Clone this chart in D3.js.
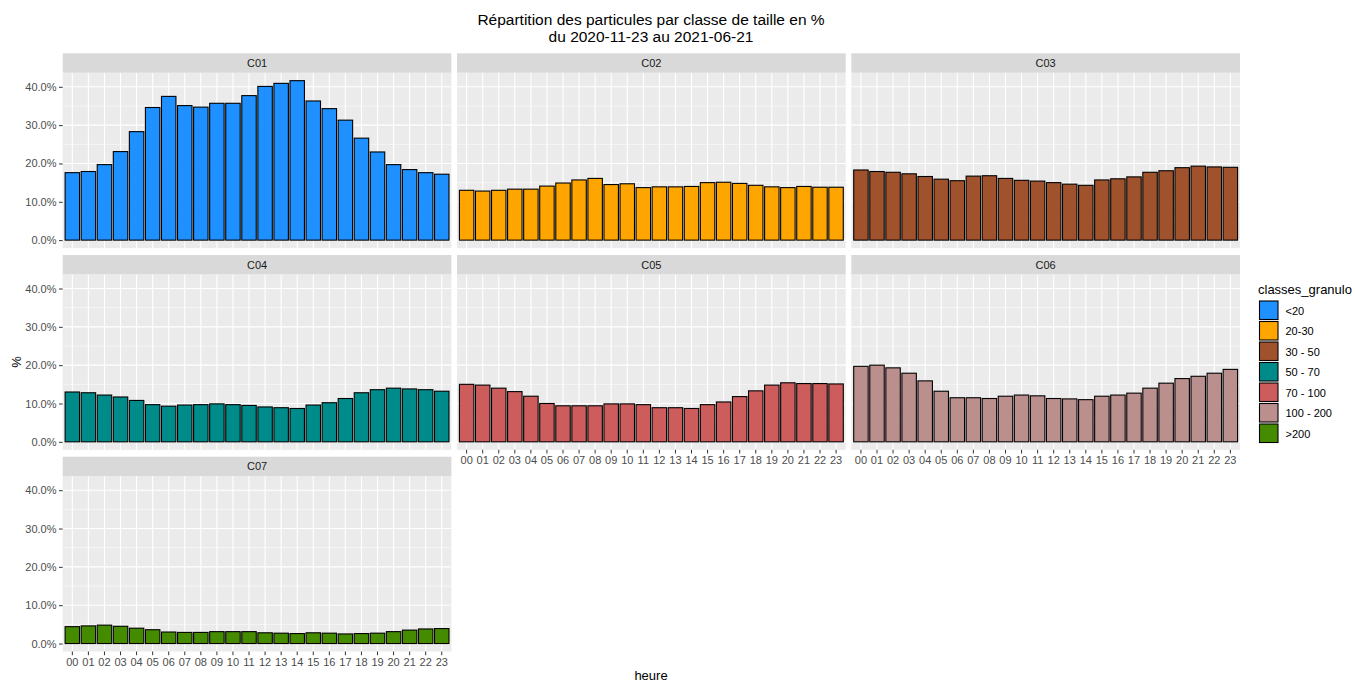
<!DOCTYPE html>
<html>
<head>
<meta charset="utf-8">
<script src="https://cdn.jsdelivr.net/npm/d3@7"></script>
<style>
  body { margin: 0; background: #fff; }
  svg { display: block; font-family: "Liberation Sans", Arial, sans-serif; }
</style>
</head>
<body>
<svg id="chart" width="1355" height="682"></svg>
<script>
// hours of day (x categories)
const hours = ["00","01","02","03","04","05","06","07","08","09","10","11",
               "12","13","14","15","16","17","18","19","20","21","22","23"];

const panels = ["C01", "C02", "C03", "C04", "C05", "C06", "C07"];
const classLabels = ["<20", "20-30", "30 - 50", "50 - 70", "70 - 100", "100 - 200", ">200"];
const classColors = ["#1E90FF", "#FFA500", "#A0522D", "#008B8B", "#CD5C5C", "#BC8F8F", "#458B00"];

// share of particles (%) per hour, one array per size class
const c01 = [17.6, 17.9, 19.7, 23.1, 28.3, 34.6, 37.5, 35.1, 34.7, 35.7, 35.7, 37.7,
             40.1, 40.9, 41.6, 36.3, 34.3, 31.3, 26.6, 23.0, 19.7, 18.4, 17.6, 17.2];
const c02 = [13.0, 12.8, 13.0, 13.3, 13.3, 14.1, 14.9, 15.7, 16.1, 14.5, 14.7, 13.7,
             13.9, 13.9, 14.0, 15.0, 15.1, 14.8, 14.3, 13.9, 13.7, 14.0, 13.8, 13.8];
const c03 = [18.3, 17.9, 17.7, 17.3, 16.6, 15.9, 15.5, 16.7, 16.8, 16.1, 15.6, 15.4,
             15.0, 14.6, 14.3, 15.7, 16.0, 16.5, 17.7, 18.1, 18.9, 19.3, 19.1, 19.0];
const c04 = [13.0, 12.8, 12.2, 11.7, 10.8, 9.7, 9.3, 9.6, 9.7, 9.9, 9.7, 9.5,
             9.1, 8.9, 8.7, 9.6, 10.2, 11.3, 12.8, 13.6, 14.0, 13.8, 13.6, 13.2];
const c05 = [15.0, 14.8, 14.0, 13.1, 11.9, 10.0, 9.4, 9.4, 9.4, 9.9, 9.9, 9.7,
             8.9, 8.9, 8.7, 9.7, 10.4, 11.8, 13.3, 14.8, 15.4, 15.2, 15.2, 15.1];
const c06 = [19.7, 20.0, 19.3, 17.9, 15.9, 13.2, 11.5, 11.5, 11.3, 11.9, 12.2, 12.0,
             11.3, 11.2, 11.0, 11.9, 12.2, 12.7, 14.0, 15.3, 16.5, 17.1, 17.9, 18.9];
const c07 = [4.4, 4.6, 4.8, 4.5, 4.0, 3.6, 3.0, 2.9, 2.9, 3.1, 3.1, 3.1,
             2.8, 2.7, 2.6, 2.8, 2.7, 2.5, 2.6, 2.7, 3.1, 3.5, 3.8, 3.9];
const series = [c01, c02, c03, c04, c05, c06, c07];

const yTicks = [0, 10, 20, 30, 40];
const yMinor = [5, 15, 25, 35];

const svg = d3.select("#chart");

// facet layout (3 columns, rows fill left to right)
const ncol = 3;
const left = 62.7, right = 1240, gap = 5.6;
const panelW = (right - left - gap * (ncol - 1)) / ncol;
const top0 = 53.3, stripH = 19.4, panelH = 175.4, rowStep = 201.7;

const x = d3.scaleBand().domain(hours).range([0, panelW]).paddingInner(0.1).paddingOuter(0.15);
const yMax = d3.max(series, s => d3.max(s));
const y = d3.scaleLinear().domain([-0.05 * yMax, yMax * 1.05]).range([panelH, 0]);

// title
const title = svg.append("text")
  .attr("x", 651).attr("y", 25)
  .attr("text-anchor", "middle")
  .attr("font-size", "15.5px")
  .attr("fill", "#000");
title.append("tspan").attr("x", 651).text("Répartition des particules par classe de taille en %");
title.append("tspan").attr("x", 651).attr("dy", 17).text("du 2020-11-23 au 2021-06-21");

panels.forEach((name, i) => {
  const col = i % ncol, row = Math.floor(i / ncol);
  const px = left + col * (panelW + gap);
  const py = top0 + row * rowStep + stripH;
  const g = svg.append("g").attr("transform", `translate(${px},${py})`);

  // strip
  svg.append("rect")
    .attr("x", px).attr("y", py - stripH)
    .attr("width", panelW).attr("height", stripH)
    .attr("fill", "#D9D9D9");
  svg.append("text")
    .attr("x", px + panelW / 2).attr("y", py - stripH / 2)
    .attr("text-anchor", "middle").attr("dominant-baseline", "central")
    .attr("font-size", "11px").attr("fill", "#1A1A1A")
    .text(name);

  // panel background + grid
  g.append("rect").attr("width", panelW).attr("height", panelH).attr("fill", "#EBEBEB");
  g.selectAll(".minor").data(yMinor).enter().append("line")
    .attr("x1", 0).attr("x2", panelW)
    .attr("y1", d => y(d)).attr("y2", d => y(d))
    .attr("stroke", "#fff").attr("stroke-width", 0.55);
  g.selectAll(".major-y").data(yTicks).enter().append("line")
    .attr("x1", 0).attr("x2", panelW)
    .attr("y1", d => y(d)).attr("y2", d => y(d))
    .attr("stroke", "#fff").attr("stroke-width", 1.1);
  g.selectAll(".major-x").data(hours).enter().append("line")
    .attr("x1", d => x(d) + x.bandwidth() / 2).attr("x2", d => x(d) + x.bandwidth() / 2)
    .attr("y1", 0).attr("y2", panelH)
    .attr("stroke", "#fff").attr("stroke-width", 1.1);

  // bars
  g.selectAll(".bar").data(series[i]).enter().append("rect")
    .attr("x", (d, j) => x(hours[j]))
    .attr("width", x.bandwidth())
    .attr("y", d => y(d))
    .attr("height", d => y(0) - y(d))
    .attr("fill", classColors[i])
    .attr("stroke", "#000")
    .attr("stroke-width", 1.1);

  // y axis on first column
  if (col === 0) {
    const ya = g.append("g")
      .call(d3.axisLeft(y).tickValues(yTicks).tickSize(3.7).tickPadding(2.5)
        .tickFormat(d => d.toFixed(1) + "%"));
    ya.select(".domain").remove();
    ya.selectAll(".tick line").attr("stroke", "#333333");
    ya.selectAll(".tick text").attr("fill", "#4D4D4D").attr("font-size", "11px")
      .attr("font-family", "Liberation Sans, Arial, sans-serif");
  }

  // x axis on bottom panel of each column
  const below = i + ncol;
  if (below >= panels.length) {
    const xa = g.append("g").attr("transform", `translate(0,${panelH})`)
      .call(d3.axisBottom(x).tickSize(3.7).tickPadding(2.5));
    xa.select(".domain").remove();
    xa.selectAll(".tick line").attr("stroke", "#333333");
    xa.selectAll(".tick text").attr("fill", "#4D4D4D").attr("font-size", "11px")
      .attr("font-family", "Liberation Sans, Arial, sans-serif");
  }
});

// axis titles
svg.append("text")
  .attr("x", 651).attr("y", 675)
  .attr("text-anchor", "middle").attr("dominant-baseline", "central")
  .attr("font-size", "13px").attr("fill", "#000")
  .text("heure");
svg.append("text")
  .attr("transform", "translate(21,362) rotate(-90)")
  .attr("text-anchor", "middle").attr("font-size", "13px").attr("fill", "#000")
  .text("%");

// legend
const legend = svg.append("g").attr("transform", "translate(1258,289)");
legend.append("text")
  .attr("x", 0).attr("y", 4.5)
  .attr("font-size", "13px").attr("fill", "#000")
  .text("classes_granulo");
const items = legend.selectAll(".item").data(classLabels).enter().append("g")
  .attr("transform", (d, j) => `translate(1.5,${12 + j * 20.5})`);
items.append("rect")
  .attr("width", 18.5).attr("height", 18.5)
  .attr("fill", (d, j) => classColors[j])
  .attr("stroke", "#000").attr("stroke-width", 1.1);
items.append("text")
  .attr("x", 26).attr("y", 9.5)
  .attr("dominant-baseline", "central")
  .attr("font-size", "11px").attr("fill", "#000")
  .text(d => d);
</script>
</body>
</html>
